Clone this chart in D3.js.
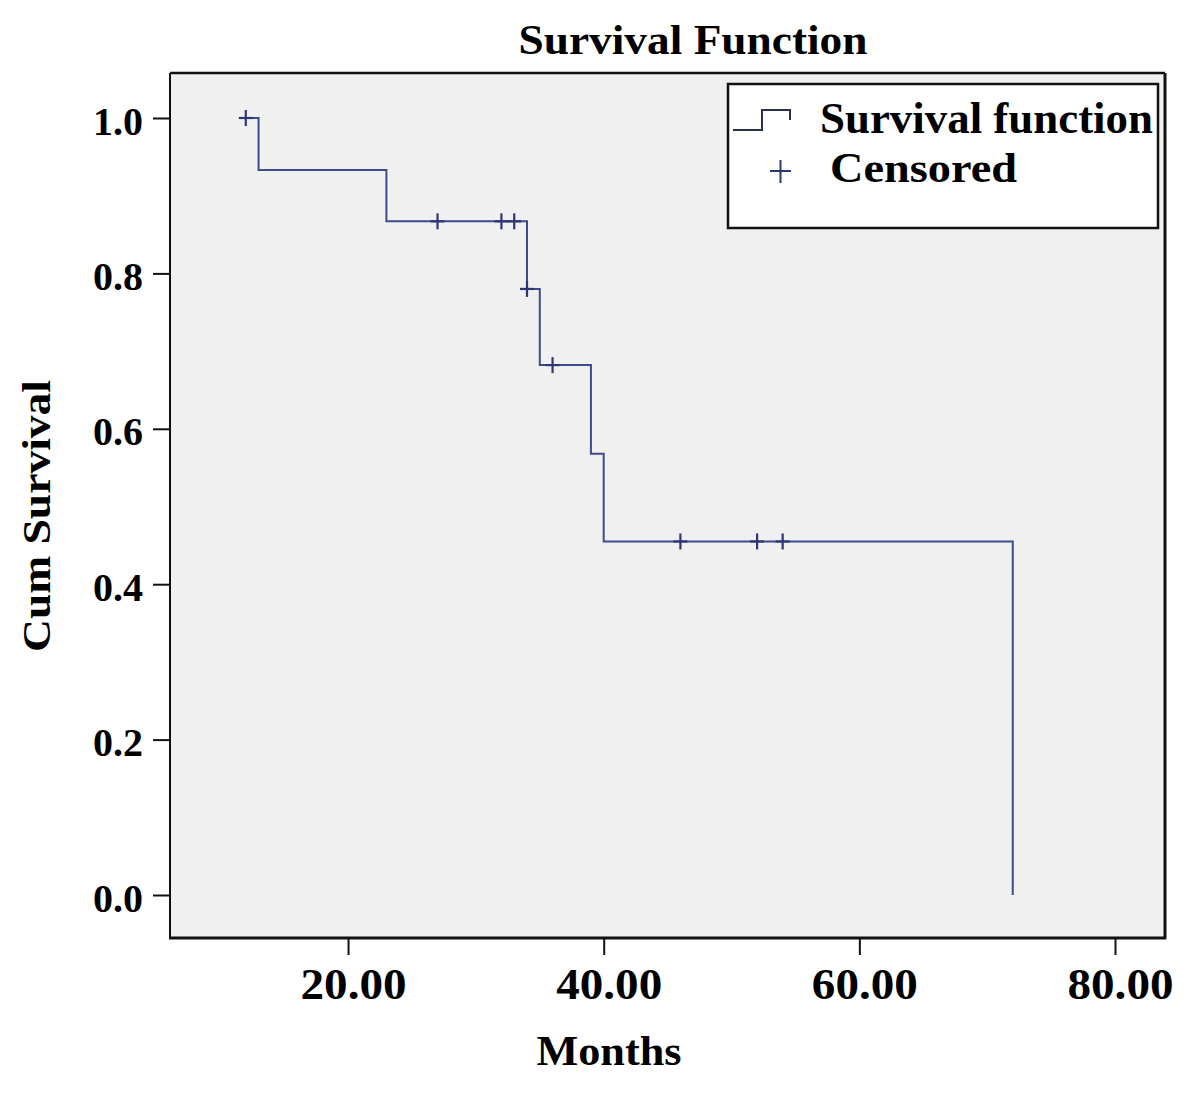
<!DOCTYPE html>
<html>
<head>
<meta charset="utf-8">
<script src="https://cdn.jsdelivr.net/npm/d3@7"></script>
<style>
  html, body { margin: 0; padding: 0; background: #ffffff; }
  svg { display: block; }
  text { font-family: "Liberation Serif", "Times New Roman", serif; font-weight: bold; fill: #000; }
</style>
</head>
<body>
<script>
// ---- data ----
const eventTimes = [12, 13, 23, 34, 35, 39, 40, 72];
const survival = [1.0, 0.933, 0.867, 0.780, 0.682, 0.568, 0.455, 0.0];
const censoredTimes = [12, 27, 32, 33, 34, 36, 46, 52, 54];
const censoredSurvival = [1.0, 0.867, 0.867, 0.867, 0.780, 0.682, 0.455, 0.455, 0.455];
const xTicks = [20, 40, 60, 80];
const yTicks = [0.0, 0.2, 0.4, 0.6, 0.8, 1.0];
const titleText = "Survival Function";
const xLabel = "Months";
const yLabel = "Cum Survival";
const legendLabels = ["Survival function", "Censored"];

// ---- layout ----
const W = 1200, H = 1098;
const frame = { left: 170, top: 73, right: 1165, bottom: 938 };
const lineColor = "#3d4b8c";
const censorColor = "#2b3672";

const svg = d3.select("body").append("svg").attr("width", W).attr("height", H);

const x = d3.scaleLinear().domain([0, 80]).range([92.4, 1115]);
const y = d3.scaleLinear().domain([0, 1]).range([895, 118]);

// plot background
svg.append("rect")
  .attr("x", frame.left).attr("y", frame.top)
  .attr("width", frame.right - frame.left).attr("height", frame.bottom - frame.top)
  .attr("fill", "#f0f0f0");

// survival step curve
const kmData = eventTimes.map((t, i) => ({ t, s: survival[i] }));
const line = d3.line().x(d => x(d.t)).y(d => y(d.s)).curve(d3.curveStepAfter);
svg.append("path")
  .datum(kmData)
  .attr("d", line)
  .attr("fill", "none")
  .attr("stroke", lineColor)
  .attr("stroke-width", 2);

// censored marks
const cens = censoredTimes.map((t, i) => ({ t, s: censoredSurvival[i] }));
const cg = svg.append("g").attr("stroke", censorColor).attr("stroke-width", 2.2);
cg.selectAll("line.v").data(cens).join("line").attr("class", "v")
  .attr("x1", d => x(d.t)).attr("x2", d => x(d.t))
  .attr("y1", d => y(d.s) - 8).attr("y2", d => y(d.s) + 8);
cg.selectAll("line.h").data(cens).join("line").attr("class", "h")
  .attr("x1", d => x(d.t) - 7).attr("x2", d => x(d.t) + 7)
  .attr("y1", d => y(d.s)).attr("y2", d => y(d.s));

// frame borders
const fb = svg.append("g").attr("stroke", "#111");
fb.append("line").attr("x1", frame.left).attr("x2", frame.right).attr("y1", frame.top).attr("y2", frame.top).attr("stroke-width", 2.5);
fb.append("line").attr("x1", frame.left).attr("x2", frame.left).attr("y1", frame.top).attr("y2", frame.bottom).attr("stroke-width", 2);
fb.append("line").attr("x1", frame.right).attr("x2", frame.right).attr("y1", frame.top).attr("y2", frame.bottom + 1).attr("stroke-width", 3);
fb.append("line").attr("x1", frame.left - 1).attr("x2", frame.right + 1).attr("y1", frame.bottom).attr("y2", frame.bottom).attr("stroke-width", 3);

// y axis
const yAxis = svg.append("g")
  .attr("transform", `translate(${frame.left},0)`)
  .call(d3.axisLeft(y).tickValues(yTicks).tickFormat(d3.format(".1f")).tickSize(17).tickPadding(10));
yAxis.select(".domain").remove();
yAxis.selectAll(".tick line").attr("stroke", "#111").attr("stroke-width", 2);
yAxis.selectAll(".tick text")
  .attr("font-size", 40).attr("font-family", "Liberation Serif, serif").attr("font-weight", "bold")
  .attr("fill", "#000").attr("dy", "0.4em");

// x axis
const xAxis = svg.append("g")
  .attr("transform", `translate(0,${frame.bottom})`)
  .call(d3.axisBottom(x).tickValues(xTicks).tickFormat(d3.format(".2f")).tickSize(17));
xAxis.select(".domain").remove();
xAxis.selectAll(".tick line").attr("stroke", "#111").attr("stroke-width", 2);
xAxis.selectAll(".tick text")
  .attr("font-size", 44).attr("font-family", "Liberation Serif, serif").attr("font-weight", "bold")
  .attr("fill", "#000").attr("y", 61).attr("dy", 0).attr("dx", 5)
  .attr("textLength", 106).attr("lengthAdjust", "spacingAndGlyphs");

// title
svg.append("text").attr("x", 693).attr("y", 54).attr("text-anchor", "middle")
  .attr("font-size", 43).attr("textLength", 349).attr("lengthAdjust", "spacingAndGlyphs")
  .text(titleText);

// axis titles
svg.append("text").attr("x", 609).attr("y", 1065).attr("text-anchor", "middle")
  .attr("font-size", 43).attr("textLength", 145).attr("lengthAdjust", "spacingAndGlyphs")
  .text(xLabel);
svg.append("text").attr("transform", "translate(50,516) rotate(-90)").attr("text-anchor", "middle")
  .attr("font-size", 40).attr("textLength", 272).attr("lengthAdjust", "spacingAndGlyphs")
  .text(yLabel);

// legend
const lg = svg.append("g");
lg.append("rect").attr("x", 728).attr("y", 84).attr("width", 430).attr("height", 144)
  .attr("fill", "#ffffff").attr("stroke", "#111").attr("stroke-width", 2.5);
lg.append("path").attr("d", "M733,130 H762 V110 H790 V120")
  .attr("fill", "none").attr("stroke", "#2a3050").attr("stroke-width", 2);
lg.append("line").attr("x1", 770).attr("x2", 791).attr("y1", 171).attr("y2", 171)
  .attr("stroke", censorColor).attr("stroke-width", 2);
lg.append("line").attr("x1", 780.5).attr("x2", 780.5).attr("y1", 160).attr("y2", 183)
  .attr("stroke", censorColor).attr("stroke-width", 2);
lg.append("text").attr("x", 820).attr("y", 133).attr("font-size", 44)
  .attr("textLength", 333).attr("lengthAdjust", "spacingAndGlyphs").text(legendLabels[0]);
lg.append("text").attr("x", 830).attr("y", 182).attr("font-size", 43)
  .attr("textLength", 187).attr("lengthAdjust", "spacingAndGlyphs").text(legendLabels[1]);
</script>
</body>
</html>
